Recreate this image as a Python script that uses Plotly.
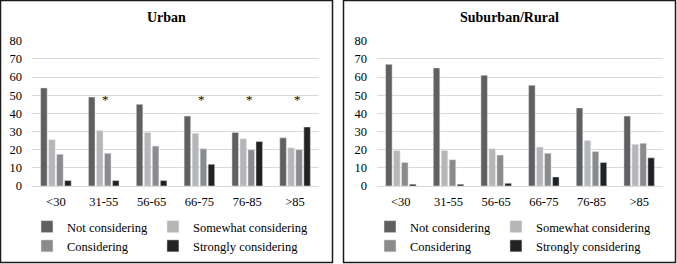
import plotly.graph_objects as go

W, H = 677, 264

categories = ["<30", "31-55", "56-65", "66-75", "76-85", ">85"]
series_names = ["Not considering", "Somewhat considering", "Considering", "Strongly considering"]
series_colors = ["#606060", "#b6b6b6", "#8b8b8b", "#222222"]

urban_not = [54, 49, 45, 38.5, 29.5, 26.5]
urban_somewhat = [25.5, 30.5, 29.5, 29, 26, 21]
urban_considering = [17.5, 18, 22, 20.5, 20, 20]
urban_strongly = [3, 3, 3, 12, 24.5, 32.5]

rural_not = [67, 65, 61, 55.5, 43, 38.5]
rural_somewhat = [19.5, 19.5, 20.5, 21.5, 25, 23]
rural_considering = [13, 14.5, 17, 18, 19, 23.5]
rural_strongly = [1, 1, 1.5, 5, 13, 15.5]

urban_star_categories = ["31-55", "66-75", "76-85", ">85"]
star_level = 47.5

y_ticks = [0, 10, 20, 30, 40, 50, 60, 70, 80]

FONT = "Liberation Serif"

def px_x(p):
    return p / W

def px_y(p):
    return 1 - p / H

fig = go.Figure()

urban = [urban_not, urban_somewhat, urban_considering, urban_strongly]
rural = [rural_not, rural_somewhat, rural_considering, rural_strongly]
groups = ["a", "b", "a", "b"]

for i, name in enumerate(series_names):
    fig.add_trace(go.Bar(
        x=categories, y=urban[i], name=name, marker_color=series_colors[i],
        xaxis="x", yaxis="y", legend="legend", legendgroup="u" + groups[i],
    ))
for i, name in enumerate(series_names):
    fig.add_trace(go.Bar(
        x=categories, y=rural[i], name=name, marker_color=series_colors[i],
        xaxis="x2", yaxis="y2", legend="legend2", legendgroup="r" + groups[i],
    ))

y_top, y_bot = 40.7, 186
ydom = [px_y(y_bot), px_y(y_top)]

axis_font = dict(family=FONT, size=12.5, color="#000000")
common_y = dict(range=[0, 80], tickvals=y_ticks, showgrid=True, gridcolor="#d9d9d9",
                gridwidth=1, zeroline=True, zerolinecolor="#d9d9d9", zerolinewidth=1,
                showline=False, tickfont=axis_font, ticklabelstandoff=9, domain=ydom,
                fixedrange=True, automargin=False)
common_x = dict(type="category", categoryorder="array", categoryarray=categories,
                showgrid=False, zeroline=False, showline=False, tickfont=axis_font,
                ticklabelstandoff=6, fixedrange=True, automargin=False)

legend_common = dict(orientation="h", font=dict(family=FONT, size=12.5, color="#000000"),
                     xanchor="left", yanchor="top", bgcolor="rgba(0,0,0,0)",
                     itemclick=False, itemdoubleclick=False)

fig.update_layout(
    width=W, height=H, autosize=False,
    margin=dict(l=0, r=0, t=0, b=0, pad=0, autoexpand=False),
    paper_bgcolor="white", plot_bgcolor="white",
    font=dict(family=FONT, color="#000000"),
    barmode="group", bargap=0.33, bargroupgap=0.18,
    xaxis=dict(domain=[px_x(32), px_x(319)], anchor="y", **common_x),
    yaxis=dict(anchor="x", **common_y),
    xaxis2=dict(domain=[px_x(377), px_x(663)], anchor="y2", **common_x),
    yaxis2=dict(anchor="x2", **common_y),
    legend=dict(x=px_x(27), y=px_y(212), **legend_common),
    legend2=dict(x=px_x(370), y=px_y(212), **legend_common),
    showlegend=True,
)

# panel frames
for x0, x1 in [(0.5, 332.5), (343.5, 675.5)]:
    fig.add_shape(type="rect", xref="paper", yref="paper",
                  x0=px_x(x0), x1=px_x(x1), y0=px_y(262.5), y1=px_y(0.5),
                  line=dict(color="#1a1a1a", width=1.5), fillcolor="rgba(0,0,0,0)")

# titles
for title, cx in [("<b>Urban</b>", 166.5), ("<b>Suburban/Rural</b>", 509)]:
    fig.add_annotation(text=title, xref="paper", yref="paper", x=px_x(cx), y=px_y(18),
                       xanchor="center", yanchor="middle", showarrow=False,
                       font=dict(family=FONT, size=14, color="#000000"))

# significance asterisks
for c in urban_star_categories:
    fig.add_annotation(text="*", xref="x", yref="y", x=c, y=star_level, xshift=2,
                       xanchor="center", yanchor="middle", showarrow=False,
                       font=dict(family=FONT, size=13, color="#000000"))

fig.write_html(
    "out.html",
    config={"displayModeBar": False, "responsive": False},
    post_script="document.body.style.margin='0';document.documentElement.style.overflow='hidden';",
)
